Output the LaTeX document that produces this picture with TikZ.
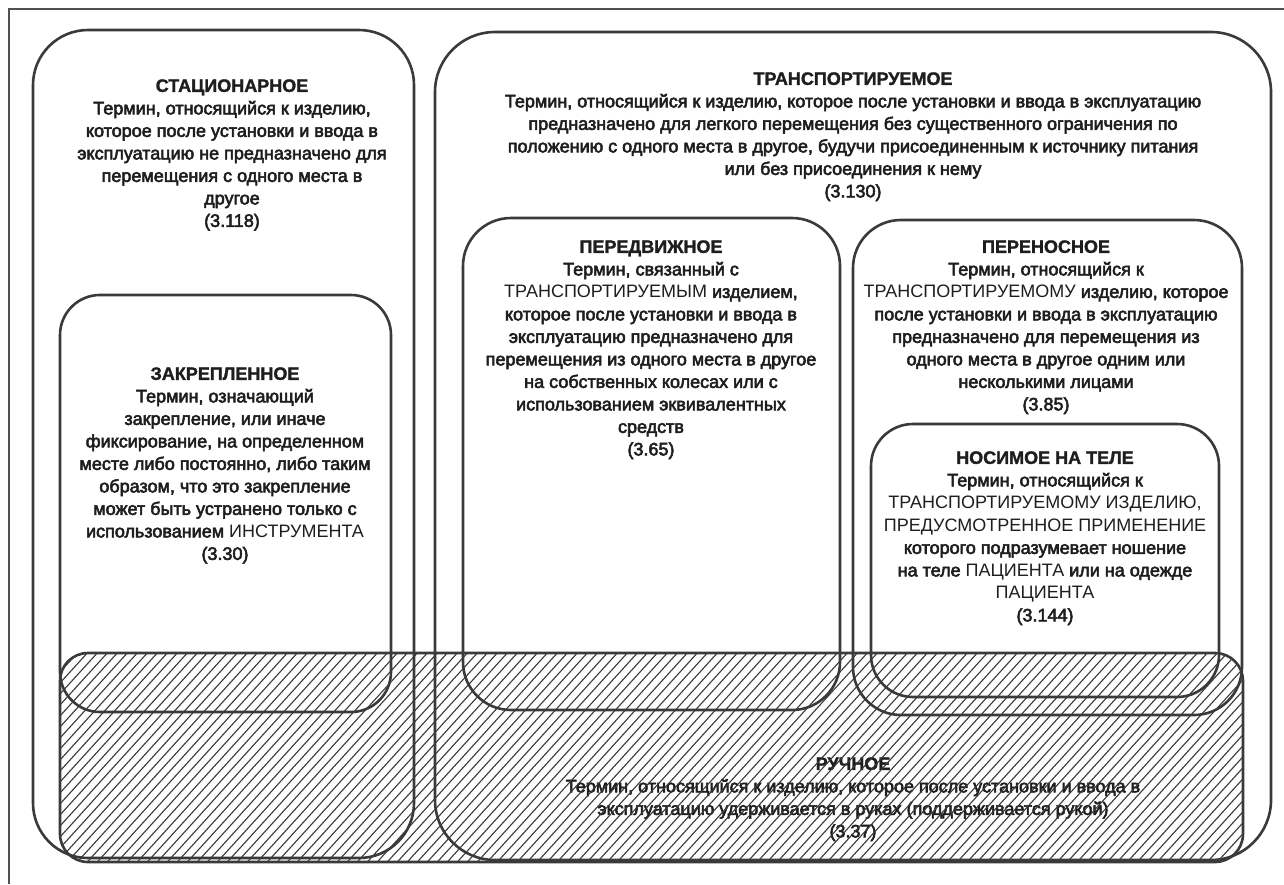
\documentclass[tikz,border=0pt]{standalone}
\usepackage{fontspec}
\setmainfont{Liberation Sans}[BoldFeatures={FakeBold=1.5}]
\newfontfamily\bodyfont{Liberation Sans}[FakeBold=3]
\usetikzlibrary{fit}

\definecolor{ink}{HTML}{1E1E1E}
\definecolor{edge}{HTML}{3A3A3A}
\definecolor{framegray}{HTML}{505050}

% term titles in bold, capitalised defined terms in the plain face
\newcommand{\termtitle}[1]{{\normalfont\bfseries #1}}
\newcommand{\capsterm}[1]{{\normalfont #1}}

\tikzset{
  box/.style={draw=edge, line width=2.6pt, rounded corners=#1, inner sep=0pt, outer sep=0pt},
  frameline/.style={draw=framegray, line width=2.2pt},
  hatchline/.style={draw=edge, line width=1.1pt},
  termtext/.style={text=ink, align=center, inner sep=0pt, anchor=north,
    font=\fontsize{18}{22.5}\selectfont\bodyfont}
}

\begin{document}
\begin{tikzpicture}[x=1pt, y=-1pt]
  \useasboundingbox[fill=white] (0,0) rectangle (1284,884);

  % outer frame (open to the right and bottom page edges)
  \coordinate (frameBL) at (9,884);
  \coordinate (frameTR) at (1284,9);
  \draw[frameline] (frameBL) |- (frameTR);

  % hand-held region: hatched rounded band
  \coordinate (ruchNW) at (60,653);
  \coordinate (ruchSE) at (1243,862);

  % term texts
  \node[termtext] (statT) at (232,79.1) {\termtitle{СТАЦИОНАРНОЕ}\\
    Термин, относящийся к изделию,\\
    которое после установки и ввода в\\
    эксплуатацию не предназначено для\\
    перемещения с одного места в\\
    другое\\
    (3.118)};

  \node[termtext] (zakrT) at (225,367.1) {\termtitle{ЗАКРЕПЛЕННОЕ}\\
    Термин, означающий\\
    закрепление, или иначе\\
    фиксирование, на определенном\\
    месте либо постоянно, либо таким\\
    образом, что это закрепление\\
    может быть устранено только с\\
    использованием \capsterm{ИНСТРУМЕНТА}\\
    (3.30)};

  \node[termtext] (transT) at (853,72.1) {\termtitle{ТРАНСПОРТИРУЕМОЕ}\\
    Термин, относящийся к изделию, которое после установки и ввода в эксплуатацию\\
    предназначено для легкого перемещения без существенного ограничения по\\
    положению с одного места в другое, будучи присоединенным к источнику питания\\
    или без присоединения к нему\\
    (3.130)};

  \node[termtext] (peredT) at (651,240.1) {\termtitle{ПЕРЕДВИЖНОЕ}\\
    Термин, связанный с\\
    \capsterm{ТРАНСПОРТИРУЕМЫМ} изделием,\\
    которое после установки и ввода в\\
    эксплуатацию предназначено для\\
    перемещения из одного места в другое\\
    на собственных колесах или с\\
    использованием эквивалентных\\
    средств\\
    (3.65)};

  \node[termtext] (perenosT) at (1046,240.1) {\termtitle{ПЕРЕНОСНОЕ}\\
    Термин, относящийся к\\
    \capsterm{ТРАНСПОРТИРУЕМОМУ} изделию, которое\\
    после установки и ввода в эксплуатацию\\
    предназначено для перемещения из\\
    одного места в другое одним или\\
    несколькими лицами\\
    (3.85)};

  \node[termtext] (nosimT) at (1045,451.1) {\termtitle{НОСИМОЕ НА ТЕЛЕ}\\
    Термин, относящийся к\\
    \capsterm{ТРАНСПОРТИРУЕМОМУ ИЗДЕЛИЮ,}\\
    \capsterm{ПРЕДУСМОТРЕННОЕ ПРИМЕНЕНИЕ}\\
    которого подразумевает ношение\\
    на теле \capsterm{ПАЦИЕНТА} или на одежде\\
    \capsterm{ПАЦИЕНТА}\\
    (3.144)};

  \node[termtext] (ruchT) at (853,757.1) {\termtitle{РУЧНОЕ}\\
    Термин, относящийся к изделию, которое после установки и ввода в\\
    эксплуатацию удерживается в руках (поддерживается рукой)\\
    (3.37)};

  % diagonal hatching of the hand-held band
  \begin{scope}
    \clip[rounded corners=28] (ruchNW) rectangle (ruchSE);
    \foreach \k in {0,...,145}
      \draw[hatchline] ({-150+10*\k},870) -- ++(200,-220);
  \end{scope}

  % category outlines
  \node[box=55, fit={(33,30) (414,858)}] (stat) {};
  \node[box=40, fit={(60,295) (391,712)}] (zakr) {};
  \node[box=60, fit={(435,32) (1271,860)}] (trans) {};
  \node[box=48, fit={(463,218) (840,710)}] (pered) {};
  \node[box=48, fit={(853,220) (1242,715)}] (perenos) {};
  \node[box=42, fit={(871,424) (1219,697)}] (nosim) {};
  \node[box=28, fit={(ruchNW) (ruchSE)}] (ruch) {};
\end{tikzpicture}
\end{document}
